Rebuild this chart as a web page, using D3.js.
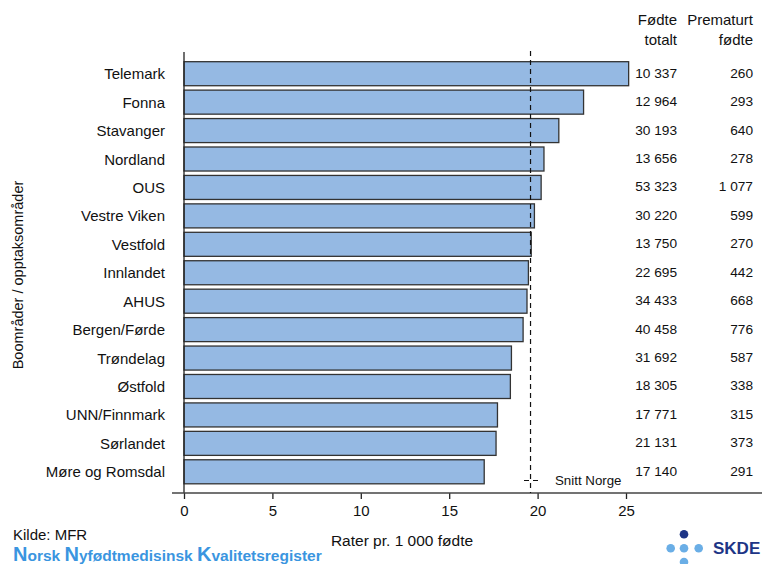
<!DOCTYPE html>
<html>
<head>
<meta charset="utf-8">
<script src="https://cdn.jsdelivr.net/npm/d3@7"></script>
<style>
  html, body { margin: 0; padding: 0; background: #fff; }
  svg { display: block; font-family: Arial, "Liberation Sans", sans-serif; }
</style>
</head>
<body>
<svg id="chart" width="762" height="564"></svg>
<script>
// Preterm birth rate per 1 000 births by catchment area
const areas = ["Telemark", "Fonna", "Stavanger", "Nordland", "OUS", "Vestre Viken",
  "Vestfold", "Innlandet", "AHUS", "Bergen/Førde", "Trøndelag", "Østfold",
  "UNN/Finnmark", "Sørlandet", "Møre og Romsdal"];
const rates = [25.15, 22.60, 21.20, 20.36, 20.20, 19.82, 19.64, 19.48, 19.40,
  19.18, 18.52, 18.46, 17.73, 17.65, 16.98];
const birthsTotal = ["10 337", "12 964", "30 193", "13 656", "53 323", "30 220",
  "13 750", "22 695", "34 433", "40 458", "31 692", "18 305", "17 771", "21 131", "17 140"];
const pretermBirths = ["260", "293", "640", "278", "1 077", "599", "270", "442",
  "668", "776", "587", "338", "315", "373", "291"];
const norwayAverage = 19.6;
const xTicks = [0, 5, 10, 15, 20, 25];

const svg = d3.select("#chart");

const x = d3.scaleLinear().domain([0, 25]).range([184, 626]);
const y = d3.scaleBand().domain(areas).range([59.5, 486]).paddingInner(0.155).paddingOuter(0.077);
const axisY = 493;

// bars
svg.append("g").selectAll("rect").data(areas).join("rect")
  .attr("x", x(0))
  .attr("y", d => y(d))
  .attr("width", (d, i) => x(rates[i]) - x(0))
  .attr("height", y.bandwidth())
  .attr("fill", "#95b9e3")
  .attr("stroke", "#333")
  .attr("stroke-width", 1.3);

// category labels
svg.append("g").selectAll("text").data(areas).join("text")
  .attr("x", 165)
  .attr("y", d => y(d) + y.bandwidth() / 2 + 5.5)
  .attr("text-anchor", "end")
  .attr("font-size", 15)
  .attr("fill", "#111")
  .text(d => d);

// vertical axis line
svg.append("line")
  .attr("x1", x(0)).attr("x2", x(0))
  .attr("y1", 52).attr("y2", axisY)
  .attr("stroke", "#222").attr("stroke-width", 1.3);

// x axis
const xAxis = d3.axisBottom(x).tickValues(xTicks).tickSize(6).tickPadding(6).tickFormat(d3.format("d"));
const gx = svg.append("g").attr("transform", `translate(0,${axisY})`).call(xAxis);
gx.select(".domain").remove();
gx.append("line").attr("x1", 172).attr("x2", 762).attr("y1", 0).attr("y2", 0)
  .attr("stroke", "#444").attr("stroke-width", 1.3);
gx.selectAll(".tick line").attr("stroke", "#222").attr("stroke-width", 1.3);
gx.selectAll(".tick text").attr("font-size", 15).attr("fill", "#111")
  .attr("font-family", "Arial, 'Liberation Sans', sans-serif");

// national average line
svg.append("line")
  .attr("x1", x(norwayAverage)).attr("x2", x(norwayAverage))
  .attr("y1", 51).attr("y2", axisY)
  .attr("stroke", "#111").attr("stroke-width", 1.2)
  .attr("stroke-dasharray", "5,4");

// legend for average line
svg.append("line")
  .attr("x1", 524).attr("x2", 540).attr("y1", 480.5).attr("y2", 480.5)
  .attr("stroke", "#111").attr("stroke-width", 1.2).attr("stroke-dasharray", "5,4");
svg.append("text").attr("x", 555).attr("y", 485).attr("font-size", 13.3).attr("fill", "#111")
  .text("Snitt Norge");

// column headers
const colTotalX = 677, colPretermX = 753;
svg.append("text").attr("x", colTotalX).attr("y", 25).attr("text-anchor", "end")
  .attr("font-size", 15).attr("fill", "#111").text("Fødte");
svg.append("text").attr("x", colTotalX).attr("y", 45).attr("text-anchor", "end")
  .attr("font-size", 15).attr("fill", "#111").text("totalt");
svg.append("text").attr("x", colPretermX).attr("y", 25).attr("text-anchor", "end")
  .attr("font-size", 15).attr("fill", "#111").text("Prematurt");
svg.append("text").attr("x", colPretermX).attr("y", 45).attr("text-anchor", "end")
  .attr("font-size", 15).attr("fill", "#111").text("fødte");

// table values
svg.append("g").selectAll("text").data(areas).join("text")
  .attr("x", colTotalX)
  .attr("y", d => y(d) + y.bandwidth() / 2 + 4)
  .attr("text-anchor", "end").attr("font-size", 13.7).attr("fill", "#111")
  .text((d, i) => birthsTotal[i]);
svg.append("g").selectAll("text").data(areas).join("text")
  .attr("x", colPretermX)
  .attr("y", d => y(d) + y.bandwidth() / 2 + 4)
  .attr("text-anchor", "end").attr("font-size", 13.7).attr("fill", "#111")
  .text((d, i) => pretermBirths[i]);

// axis titles
svg.append("text")
  .attr("transform", "translate(23,275) rotate(-90)")
  .attr("text-anchor", "middle").attr("font-size", 14.5).attr("fill", "#111")
  .text("Boområder / opptaksområder");
svg.append("text").attr("x", 402).attr("y", 546).attr("text-anchor", "middle")
  .attr("font-size", 15.5).attr("fill", "#111").text("Rater pr. 1 000 fødte");

// source and register name
svg.append("text").attr("x", 13).attr("y", 540).attr("font-size", 15).attr("fill", "#111")
  .text("Kilde: MFR");
const reg = svg.append("text").attr("x", 13).attr("y", 561)
  .attr("font-weight", "bold").attr("fill", "#3a95e0").attr("font-size", 15.5);
[["N", true], ["orsk ", false], ["N", true], ["yfødtmedisinsk ", false], ["K", true], ["valitetsregister", false]]
  .forEach(([t, big]) => reg.append("tspan").attr("font-size", big ? 20 : 15.5).text(t));

// SKDE logo
const logo = svg.append("g");
[[670.7, 548.3, "#6aaee6"], [684, 548.3, "#6aaee6"], [698.7, 548.3, "#6aaee6"],
 [684, 534.3, "#1d3586"], [684, 562, "#6aaee6"]].forEach(([cx, cy, c]) =>
  logo.append("circle").attr("cx", cx).attr("cy", cy).attr("r", 4.3).attr("fill", c));
logo.append("text").attr("x", 713).attr("y", 554).attr("font-size", 17).attr("font-weight", "bold")
  .attr("fill", "#1d3586").text("SKDE");
</script>
</body>
</html>
